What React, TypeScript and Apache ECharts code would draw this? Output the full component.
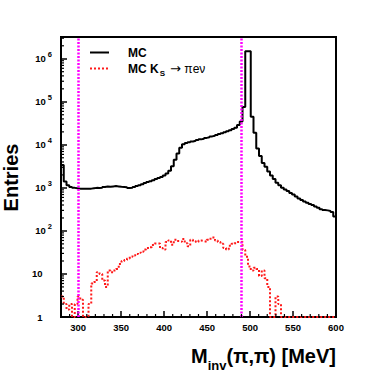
import React, { useEffect, useRef } from "react";
import * as echarts from "echarts";

// Histogram binning (100 bins from 280 to 600 MeV)
const binStart = 280;
const binWidth = 3.2;

// MC (black) bin contents
const mcValues = [
  3400, 1400, 1150, 1050, 1000, 980, 960, 950, 960, 950,
  960, 980, 1000, 990, 1000, 1050, 1080, 1060, 1080, 1100,
  1080, 1060, 1050, 1040, 990, 1000, 1050, 1100, 1150, 1220,
  1300, 1360, 1420, 1500, 1600, 1700, 1800, 1950, 2150, 2500,
  3200, 4500, 6300, 8500, 10300, 11000, 11500, 12000, 12400, 12900,
  13400, 13900, 14500, 15000, 15700, 16300, 17000, 17800, 18600, 19500,
  20600, 21800, 23300, 25000, 29000, 35000, 76000, 1500000, 1500000, 45000,
  19000, 8200, 5500, 3800, 3100, 2400, 1950, 1600, 1320, 1150,
  1000, 920, 850, 760, 700, 630, 570, 520, 480, 450,
  420, 400, 370, 345, 320, 305, 300, 290, 275, 215,
];

// MC K_S -> pi e nu (red dotted) bin contents
const ksValues = [
  3, 2, 1.5, 2, 1, 2, 3, 2.5, 0, 0,
  2, 6, 6.5, 11, 10, 7, 5, 12, 11, 12,
  13, 17, 20, 21, 23, 25, 27, 29, 31, 33,
  37, 40, 42, 47, 51, 51, 40, 37, 55, 60,
  48, 62, 58, 56, 65, 52, 44, 62, 58, 55,
  60, 58, 56, 62, 66, 70, 60, 55, 50, 40,
  37, 45, 50, 52, 55, 56, 36, 25, 15, 12,
  14, 13, 9, 12, 8, 5, 0, 0, 3, 2,
  0, 0, 0, 0, 0, 0, 0, 0, 0, 0,
  0, 0, 0, 0, 0, 0, 0, 0, 0, 0,
];

const xTickLabels = [300, 350, 400, 450, 500, 550, 600];
const yTickValues = [1, 10, 100, 1000, 10000, 100000, 1000000];
const cutValues = [300, 490];
const seriesNames = ["MC", "MC K_S → πeν"];

const FONT = "'Liberation Sans', Arial, Helvetica, sans-serif";
const RED = "#ff1a1a";

export default function App() {
  const ref = useRef<HTMLDivElement>(null);

  useEffect(() => {
    const chart = echarts.init(ref.current!, null, { renderer: "svg" });

    const toSteps = (vals: number[]) => {
      const pts = vals.map((v, i) => [
        Math.round((binStart + i * binWidth) * 10) / 10,
        Math.max(v, 1),
      ]);
      pts.push([
        Math.round((binStart + vals.length * binWidth) * 10) / 10,
        Math.max(vals[vals.length - 1], 1),
      ]);
      return pts;
    };

    // minor tick positions (axis decoration)
    const minorTicks: number[][] = [];
    for (let v = 280; v <= 600; v += 10) {
      if (v % 50 !== 0) minorTicks.push([v, 1, 0]);
    }
    for (let e = 0; e <= 6; e++) {
      for (let m = 2; m <= 9; m++) {
        const v = m * Math.pow(10, e);
        if (v < 3.2e6) minorTicks.push([280, v, 1]);
      }
    }

    chart.setOption({
      animation: false,
      backgroundColor: "#ffffff",
      grid: {
        left: 61,
        right: 38,
        top: 37,
        bottom: 57,
        show: true,
        borderColor: "#000",
        borderWidth: 2,
        backgroundColor: "transparent",
      },
      xAxis: {
        type: "value",
        min: 280,
        max: 600,
        axisLine: { show: true, onZero: false, lineStyle: { color: "#000", width: 2 } },
        axisTick: {
          show: true,
          inside: true,
          length: 6,
          customValues: xTickLabels,
          lineStyle: { color: "#000", width: 1.5 },
        },
        axisLabel: {
          customValues: xTickLabels,
          margin: 5,
          color: "#000",
          fontFamily: FONT,
          fontWeight: "bold",
          fontSize: 9.5,
        },
        splitLine: { show: false },
      },
      yAxis: {
        type: "log",
        logBase: 10,
        min: 1,
        max: 3.2e6,
        axisLine: { show: true, onZero: false, lineStyle: { color: "#000", width: 2 } },
        axisTick: {
          show: true,
          inside: true,
          length: 6,
          customValues: yTickValues,
          lineStyle: { color: "#000", width: 1.5 },
        },
        axisLabel: {
          customValues: yTickValues,
          margin: 9,
          color: "#000",
          formatter: (v: number) => {
            if (v < 1.5) return "{bp|1}";
            if (v < 15) return "{bp|10}";
            return `{b|10}{sup|${Math.round(Math.log10(v))}}`;
          },
          rich: {
            b: { fontFamily: FONT, fontWeight: "bold", fontSize: 9.5, lineHeight: 16, color: "#000" },
            bp: { fontFamily: FONT, fontWeight: "bold", fontSize: 9.5, lineHeight: 16, color: "#000", padding: [0, 9.5, 0, 0] },
            sup: {
              fontFamily: FONT,
              fontWeight: "bold",
              fontSize: 7.5,
              lineHeight: 8,
              verticalAlign: "top",
              color: "#000",
              padding: [0, 0, 0, 2],
            },
          },
        },
        splitLine: { show: false },
      },
      series: [
        {
          name: seriesNames[0],
          type: "line",
          step: "end",
          symbol: "none",
          data: toSteps(mcValues),
          lineStyle: { color: "#000", width: 2 },
          z: 4,
          markLine: {
            silent: true,
            symbol: ["none", "none"],
            label: { show: false },
            lineStyle: { color: "#ff00ff", type: [2, 1.5], width: 2.5 },
            data: cutValues.map((v) => ({ xAxis: v })),
          },
        },
        {
          name: seriesNames[1],
          type: "line",
          step: "end",
          symbol: "none",
          data: toSteps(ksValues),
          lineStyle: { color: RED, width: 2, type: [2, 2] },
          z: 3,
        },
        {
          type: "custom",
          coordinateSystem: "cartesian2d",
          data: minorTicks,
          encode: { x: 0, y: 1 },
          silent: true,
          z: 5,
          renderItem: (params: any, api: any) => {
            const kind = api.value(2);
            const p = api.coord([api.value(0), api.value(1)]);
            if (kind === 0) {
              return {
                type: "line",
                shape: { x1: p[0], y1: p[1], x2: p[0], y2: p[1] - 3 },
                style: { stroke: "#000", lineWidth: 1.2 },
              };
            }
            return {
              type: "line",
              shape: { x1: p[0], y1: p[1], x2: p[0] + 3, y2: p[1] },
              style: { stroke: "#000", lineWidth: 1.2 },
            };
          },
        },
      ],
      graphic: [
        // legend
        {
          type: "line",
          shape: { x1: 90, y1: 52.5, x2: 109, y2: 52.5 },
          style: { stroke: "#000", lineWidth: 2 },
        },
        {
          type: "text",
          style: {
            text: seriesNames[0],
            x: 128,
            y: 52.5,
            verticalAlign: "middle",
            fontFamily: FONT,
            fontWeight: "bold",
            fontSize: 12,
            fill: "#000",
          },
        },
        {
          type: "line",
          shape: { x1: 90, y1: 68.5, x2: 109, y2: 68.5 },
          style: { stroke: RED, lineWidth: 2, lineDash: [2, 2] },
        },
        {
          type: "text",
          style: {
            text: "{r|MC K}{s|S}{ar| →}{g| πeν}",
            x: 128,
            y: 68.5,
            verticalAlign: "middle",
            rich: {
              r: { fontFamily: FONT, fontWeight: "bold", fontSize: 12, lineHeight: 18, color: RED },
              s: { fontFamily: FONT, fontWeight: "bold", fontSize: 8, lineHeight: 8, verticalAlign: "bottom", color: RED, padding: [0, 1, 0, 1] },
              ar: { fontFamily: "'DejaVu Sans', sans-serif", fontSize: 13, lineHeight: 18, color: RED },
              g: { fontFamily: FONT, fontSize: 12, lineHeight: 18, color: RED },
            },
          },
        },
        // x-axis title
        {
          type: "text",
          style: {
            text: "{m|M}{sub|inv}{m|(π,π) [MeV]}",
            x: 336,
            y: 356,
            align: "right",
            verticalAlign: "middle",
            rich: {
              m: { fontFamily: FONT, fontWeight: "bold", fontSize: 20, lineHeight: 32, color: "#000" },
              sub: { fontFamily: FONT, fontWeight: "bold", fontSize: 13, lineHeight: 13, verticalAlign: "bottom", color: "#000" },
            },
          },
        },
        // y-axis title
        {
          type: "text",
          x: 10.5,
          y: 177.5,
          rotation: Math.PI / 2,
          style: {
            text: "Entries",
            align: "center",
            verticalAlign: "middle",
            fontFamily: FONT,
            fontWeight: "bold",
            fontSize: 20,
            fill: "#000",
          },
        },
      ],
    });

    return () => chart.dispose();
  }, []);

  return (
    <div
      ref={ref}
      style={{ position: "fixed", left: 0, top: 0, width: 374, height: 374, background: "#fff" }}
    />
  );
}
